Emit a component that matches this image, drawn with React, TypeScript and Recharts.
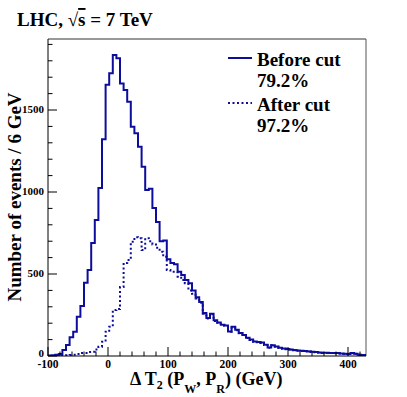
import React from 'react';
import { LineChart, Line, XAxis, YAxis, ReferenceLine, Legend } from 'recharts';

// lower edge of each 6 GeV bin
const binLow = [
  -100, -94, -88, -82, -76, -70, -64, -58, -52, -46, -40, -34, -28, -22, -16, -10, -4,
  2, 8, 14, 20, 26, 32, 38, 44, 50, 56, 62, 68, 74, 80, 86, 92, 98,
  104, 110, 116, 122, 128, 134, 140, 146, 152, 158, 164, 170, 176, 182, 188, 194,
  200, 206, 212, 218, 224, 230, 236, 242, 248, 254, 260, 266, 272, 278, 284, 290, 296,
  302, 308, 314, 320, 326, 332, 338, 344, 350, 356, 362, 368, 374, 380, 386, 392, 398,
  404, 410, 416, 422, 428,
];

const beforeCut = [
  3, 5, 8, 12, 37, 67, 115, 148, 240, 305, 447, 524, 689, 829, 1024, 1321, 1654,
  1724, 1835, 1815, 1662, 1622, 1551, 1398, 1358, 1276, 1154, 1012, 1020, 902, 817, 700, 705, 590,
  567, 560, 514, 494, 463, 443, 400, 358, 330, 262, 232, 258, 218, 205, 190, 186,
  150, 178, 160, 140, 128, 112, 100, 88, 86, 82, 68, 52, 66, 58, 50, 45, 42,
  40, 36, 33, 32, 30, 28, 26, 24, 22, 20, 20, 19, 18, 18, 16, 14, 12,
  18, 14, 8, 6, 6,
];

const afterCut = [
  0, 0, 1, 2, 3, 4, 6, 8, 12, 18, 18, 24, 26, 40, 57, 87, 148,
  179, 280, 286, 420, 567, 585, 697, 724, 718, 646, 718, 700, 680, 660, 636, 605, 524,
  514, 514, 484, 463, 443, 400, 380, 350, 325, 258, 228, 254, 214, 202, 187, 183,
  148, 175, 157, 138, 126, 110, 98, 86, 84, 80, 67, 51, 65, 57, 49, 44, 41,
  39, 35, 32, 31, 29, 27, 25, 23, 21, 19, 19, 18, 17, 17, 15, 13, 11,
  17, 13, 7, 5, 5,
];

const xTicks = [
  -100, -80, -60, -40, -20, 0, 20, 40, 60, 80, 100, 120, 140, 160, 180, 200,
  220, 240, 260, 280, 300, 320, 340, 360, 380, 400, 420,
];
const yTicks = [
  0, 100, 200, 300, 400, 500, 600, 700, 800, 900, 1000, 1100, 1200, 1300, 1400,
  1500, 1600, 1700, 1800, 1900,
];

const legendItems = [
  { name: 'Before cut', eff: '79.2%', dash: undefined },
  { name: 'After cut', eff: '97.2%', dash: '2 2.5' },
];

const BLUE = '#0d0d9c';
const SERIF = '"Liberation Serif", "Times New Roman", serif';

const data = binLow.map((x, i) => ({ x, before: beforeCut[i], after: afterCut[i] }));
// close the last bin
data.push({
  x: binLow[binLow.length - 1] + 6,
  before: beforeCut[beforeCut.length - 1],
  after: afterCut[afterCut.length - 1],
});

function XTick(props: any) {
  const { x, y, payload } = props;
  const major = payload.value % 100 === 0;
  return (
    <g>
      <line x1={x} y1={y} x2={x} y2={y - (major ? 9 : 4.5)} stroke="#000" />
      {major && (
        <text x={x} y={y + 12} textAnchor="middle" fontFamily={SERIF} fontWeight="bold" fontSize={11.5} fill="#000">
          {payload.value}
        </text>
      )}
    </g>
  );
}

function YTick(props: any) {
  const { x, y, payload } = props;
  const major = payload.value % 500 === 0;
  // the 0 label sits in the corner, lift it off the -100 below
  const dy = payload.value === 0 ? 1 : 3;
  return (
    <g>
      <line x1={x} y1={y} x2={x + (major ? 9 : 4.5)} y2={y} stroke="#000" />
      {major && (
        <text x={x - 4} y={y + dy} textAnchor="end" fontFamily={SERIF} fontWeight="bold" fontSize={11} fill="#000">
          {payload.value}
        </text>
      )}
    </g>
  );
}

function renderLegend() {
  return (
    <svg width={140} height={95} style={{ display: 'block' }}>
      {legendItems.map((it, i) => (
        <g key={it.name}>
          <line x1={2} x2={26} y1={14 + i * 45} y2={14 + i * 45} stroke={BLUE} strokeWidth={2} strokeDasharray={it.dash} />
          <text x={31} y={22 + i * 45} fontFamily={SERIF} fontWeight="bold" fontSize={19} fill="#000">{it.name}</text>
          <text x={31} y={43 + i * 45} fontFamily={SERIF} fontWeight="bold" fontSize={19} fill="#000">{it.eff}</text>
        </g>
      ))}
    </svg>
  );
}

export default function App() {
  return (
    <div style={{ position: 'absolute', left: 0, top: 0, width: 407, height: 397, background: '#fff' }}>
      <LineChart width={407} height={397} data={data} margin={{ top: 39, right: 41, bottom: 0, left: 0 }}>
        <XAxis
          type="number"
          dataKey="x"
          domain={[-100, 430]}
          allowDataOverflow
          ticks={xTicks}
          interval={0}
          tickSize={0}
          tickMargin={0}
          tickLine={false}
          tick={<XTick />}
          height={41}
          axisLine={{ stroke: '#000' }}
          label={{
            content: () => (
              <text x={130} y={385} fontFamily={SERIF} fontWeight="bold" fontSize={18} fill="#000">
                Δ T<tspan fontSize={12} dy={4}>2</tspan>
                <tspan dy={-4}> (P</tspan>
                <tspan fontSize={12} dy={8}>W</tspan>
                <tspan dy={-8}>, P</tspan>
                <tspan fontSize={12} dy={8}>R</tspan>
                <tspan dy={-8}>) (GeV)</tspan>
              </text>
            ),
          }}
        />
        <YAxis
          type="number"
          domain={[0, 1933]}
          allowDataOverflow
          ticks={yTicks}
          interval={0}
          tickSize={0}
          tickMargin={0}
          tickLine={false}
          tick={<YTick />}
          width={48}
          axisLine={{ stroke: '#000' }}
          label={{
            content: () => (
              <text
                x={21}
                y={197}
                transform="rotate(-90 21 197)"
                textAnchor="middle"
                fontFamily={SERIF}
                fontWeight="bold"
                fontSize={19}
                fill="#000"
              >
                Number of events / 6 GeV
              </text>
            ),
          }}
        />
        <ReferenceLine y={1933} stroke="#333" />
        <ReferenceLine x={430} stroke="#555" />
        <Legend
          layout="vertical"
          align="center"
          verticalAlign="middle"
          content={renderLegend}
          wrapperStyle={{ left: 226, top: 44, width: 140, height: 95 }}
        />
        <Line type="stepAfter" dataKey="before" stroke={BLUE} strokeWidth={2} dot={false} isAnimationActive={false} />
        <Line
          type="stepAfter"
          dataKey="after"
          stroke={BLUE}
          strokeWidth={2}
          strokeDasharray="2 2.5"
          dot={false}
          isAnimationActive={false}
        />
      </LineChart>
      <svg width={407} height={40} style={{ position: 'absolute', left: 0, top: 0, pointerEvents: 'none' }}>
        <text x={17} y={26} fontFamily={SERIF} fontWeight="bold" fontSize={19} fill="#000">
          LHC, √<tspan style={{ textDecoration: 'overline' }}>s</tspan> = 7 TeV
        </text>
      </svg>
    </div>
  );
}
